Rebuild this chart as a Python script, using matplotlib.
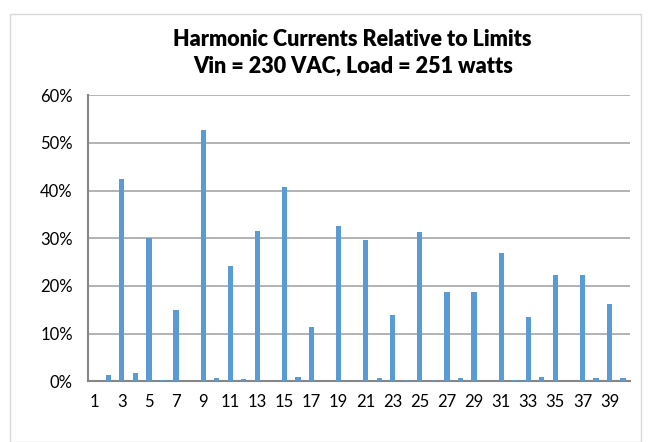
"""Harmonic currents relative to limits - bar chart."""

import matplotlib.pyplot as plt
from matplotlib.patches import Rectangle
from matplotlib.ticker import FuncFormatter

plt.rcParams["font.family"] = ["Lato", "DejaVu Sans"]

# Harmonic order 1..40 and current as percent of the limit
harmonics = list(range(1, 41))
percent_of_limit = [
    0.0, 1.3, 42.5, 1.8, 30.0, 0.4, 15.0, 0.0, 52.7, 0.8,
    24.1, 0.5, 31.5, 0.0, 40.8, 0.9, 11.4, 0.0, 32.5, 0.0,
    29.7, 0.7, 13.9, 0.4, 31.4, 0.2, 18.8, 0.7, 18.7, 0.0,
    27.0, 0.4, 13.6, 0.9, 22.2, 0.0, 22.2, 0.8, 16.2, 0.8,
]
tick_harmonics = list(range(1, 40, 2))
y_ticks = [0, 10, 20, 30, 40, 50, 60]

title = "Harmonic Currents Relative to Limits\nVin = 230 VAC, Load = 251 watts"

fig = plt.figure(figsize=(6.52, 4.42), dpi=100)
ax = fig.add_axes([0.135, 0.137, 0.831, 0.648])

# chart border
fig.patches.append(
    Rectangle((10 / 652, 0.0), 631 / 652, 1 - 14 / 442, transform=fig.transFigure,
              fill=False, edgecolor="#D9D9D9", linewidth=1.0)
)

ax.bar(harmonics, percent_of_limit, width=0.38, color="#5B9BD5", zorder=3)

ax.set_xlim(0.5, 40.5)
ax.set_ylim(0, 60)
ax.set_yticks(y_ticks)
ax.yaxis.set_major_formatter(FuncFormatter(lambda v, _: f"{v:.0f}%"))
ax.set_xticks(tick_harmonics)
ax.set_xticklabels([str(h) for h in tick_harmonics])
ax.tick_params(axis="both", length=0, labelsize=12, colors="#000000")
ax.tick_params(axis="y", pad=11)
ax.tick_params(axis="x", pad=9)

ax.grid(axis="y", color="#A6A6A6", linewidth=1.2, zorder=0)
for side in ("top", "right"):
    ax.spines[side].set_visible(False)
for side in ("left", "bottom"):
    ax.spines[side].set_color("#868686")
    ax.spines[side].set_linewidth(1.5)

fig.text(0.541, 1 - 53 / 442, title, ha="center", va="center",
         fontsize=15.5, fontweight="heavy", linespacing=1.3)

fig.savefig("out.png", dpi=100)
